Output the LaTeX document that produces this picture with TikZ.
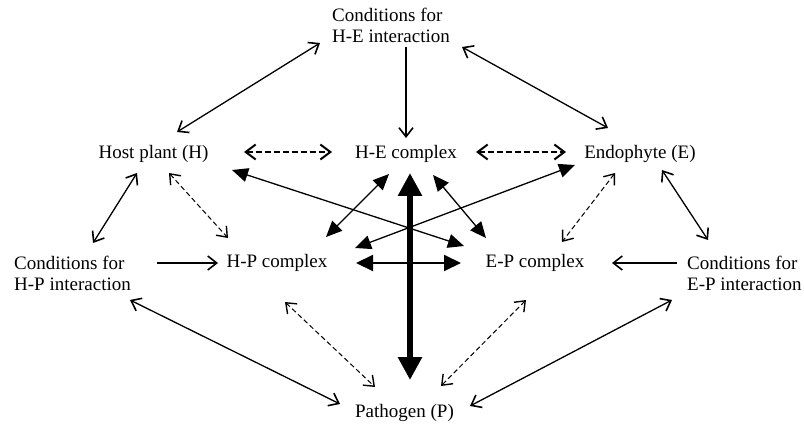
\documentclass[tikz,border=0pt]{standalone}
\usepackage{fontspec}
\setmainfont{Liberation Serif}
\usetikzlibrary{arrows.meta, calc}

\tikzset{
  lbl/.style={inner sep=0pt, font=\fontsize{19}{21}\selectfont, anchor=base},
  lbltwo/.style={lbl, align=left, anchor=north west},
  thinlink/.style={line width=1.3pt, >={Straight Barb[length=9pt,width=14pt,line width=1.6pt]}},
  dashlink/.style={line width=1pt, dash pattern=on 5pt off 3pt, >={Straight Barb[length=9pt,width=14pt,line width=1.4pt]}},
  bolddash/.style={line width=2pt, dash pattern=on 6pt off 3pt, >={Straight Barb[length=10pt,width=15pt]}},
  filllink/.style={line width=1.3pt, >={Triangle[length=16pt,width=14pt]}},
}

\begin{document}
\begin{tikzpicture}[x=1pt, y=-1pt]
  \useasboundingbox (0,0) rectangle (804,425);

  % labels
  \node[lbltwo] (conhe) at (332,8) {Conditions for\\H-E interaction};
  \node[lbl] (host) at (153.5,159) {Host plant (H)};
  \node[lbl] (hecx) at (406,159) {H-E complex};
  \node[lbl] (endo) at (640,159) {Endophyte (E)};
  \node[lbltwo] (conhp) at (14,256) {Conditions for\\H-P interaction};
  \node[lbl] (hpcx) at (277,267) {H-P complex};
  \node[lbl] (epcx) at (535,267) {E-P complex};
  \node[lbltwo] (conep) at (687,256) {Conditions for\\E-P interaction};
  \node[lbl] (path) at (404.5,417) {Pathogen (P)};

  % top conditions
  \draw[thinlink, <->] ($(conhe.north west)+(-12,35)$) -- ($(host.base)+(23.5,-27)$);
  \draw[thinlink, ->] ($(conhe.north west)+(74,39)$) -- ($(hecx.base)+(0,-21)$);
  \draw[thinlink, <->] ($(conhe.north west)+(130,39)$) -- ($(endo.base)+(-32,-31)$);

  % middle row
  \draw[bolddash, <->] ($(host.base)+(90.5,-7)$) -- ($(hecx.base)+(-74,-7)$);
  \draw[bolddash, <->] ($(hecx.base)+(70,-7)$) -- ($(endo.base)+(-74,-7)$);

  % host side
  \draw[thinlink, <->] ($(host.base)+(-16.5,14)$) -- ($(conhp.north west)+(79,-13)$);
  \draw[dashlink, <->] ($(host.base)+(15.5,14)$) -- ($(hpcx.base)+(-49,-29)$);
  \draw[thinlink, ->] ($(conhp.north west)+(143,7)$) -- ($(hpcx.base)+(-59,-4)$);

  % complexes
  \draw[filllink, <->] ($(hecx.base)+(-17,15)$) -- ($(hpcx.base)+(49,-30)$);
  \draw[filllink, <->] ($(host.base)+(78.5,11)$) -- ($(epcx.base)+(-71,-21)$);
  \draw[filllink, <->] ($(endo.base)+(-65,6)$) -- ($(hpcx.base)+(78,-19)$);
  \draw[filllink, <->] ($(hecx.base)+(27,16)$) -- ($(epcx.base)+(-49,-29)$);
  \draw[line width=2pt, {Triangle[length=17pt,width=16pt]}-{Triangle[length=17pt,width=16pt]}] ($(hpcx.base)+(79,-4)$) -- ($(epcx.base)+(-74,-4)$);
  \draw[line width=6pt, {Triangle[length=23pt,width=23pt]}-{Triangle[length=23pt,width=23pt]}] ($(hecx.base)+(4,14)$) -- ($(path.base)+(5.5,-37)$);

  % endophyte side
  \draw[dashlink, <->] ($(endo.base)+(-25,14)$) -- ($(epcx.base)+(27,-25)$);
  \draw[thinlink, <->] ($(endo.base)+(22,11)$) -- ($(conep.north west)+(21,-16)$);
  \draw[thinlink, ->] ($(conep.north west)+(-10,7)$) -- ($(epcx.base)+(77,-4)$);

  % pathogen
  \draw[thinlink, <->] ($(conhp.north west)+(116,44)$) -- ($(path.base)+(-64.5,-13)$);
  \draw[dashlink, <->] ($(hpcx.base)+(8,35)$) -- ($(path.base)+(-29.5,-30)$);
  \draw[dashlink, <->] ($(epcx.base)+(-9,33)$) -- ($(path.base)+(36.5,-31)$);
  \draw[thinlink, <->] ($(conep.north west)+(-15,44)$) -- ($(path.base)+(65.5,-11)$);
\end{tikzpicture}
\end{document}
